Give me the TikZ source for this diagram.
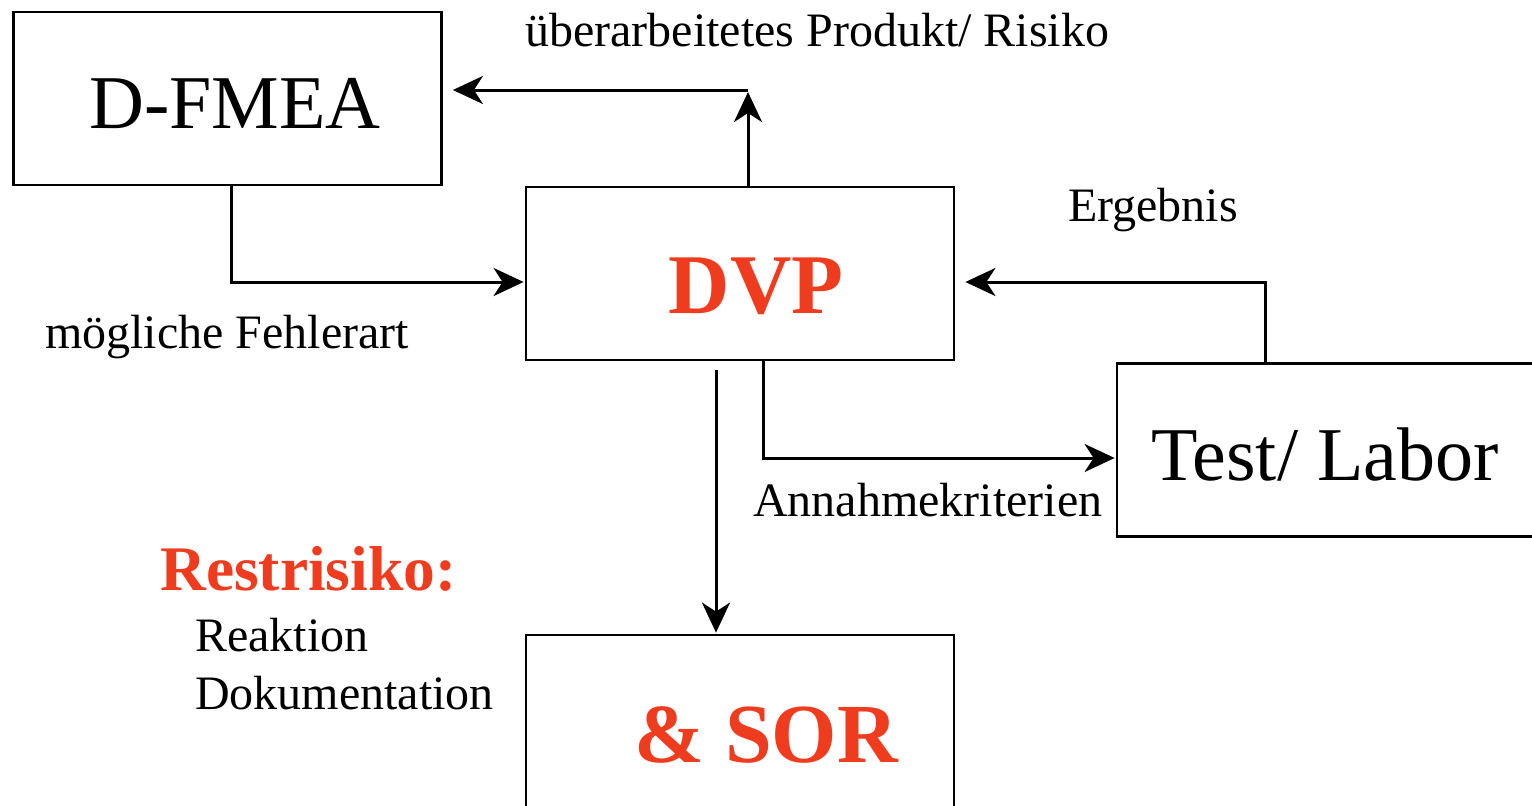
\documentclass[tikz,border=0pt]{standalone}
\usepackage{fontspec}
\setmainfont{Liberation Serif}
\usetikzlibrary{arrows.meta}
\definecolor{accent}{RGB}{240,60,30}
\begin{document}
\begin{tikzpicture}[x=1pt,y=1pt]
\tikzset{
  box/.style={draw, line width=2.8pt, minimum width=428pt, minimum height=173pt, inner sep=0pt},
  conn/.style={line width=3pt, -{Stealth[length=30pt,width=28pt,inset=9pt]}},
  lbl/.style={font=\fontsize{48}{54}\selectfont, inner sep=0pt, anchor=base west},
  big/.style={font=\fontsize{76}{82}\selectfont, inner sep=0pt, anchor=base},
  bigred/.style={font=\fontsize{85}{90}\selectfont\bfseries, text=accent, inner sep=0pt, anchor=base},
  redlbl/.style={font=\fontsize{63.5}{70}\selectfont\bfseries, text=accent, inner sep=0pt, anchor=base west}}
\useasboundingbox (0,0) rectangle (1532,-806);

% boxes
\node[box] (dfmea) at (227.5,-98.5) {};
\node[box] (dvp) at (740,-273.5) {};
\node[box] (test) at (1331,-450) {};
\node[box] (sor) at (740,-721.5) {};

% box texts
\node[big] (tdfmea) at (235,-128) {D-FMEA};
\node[bigred] (tdvp) at (756,-313) {DVP};
\node[big] (ttest) at (1325,-480) {Test/ Labor};
\node[bigred, font=\fontsize{84}{90}\selectfont\bfseries] (tsor) at (766,-762) {\& SOR};

% helper coordinates
\coordinate (c1) at (231,-282);
\coordinate (c2) at (748,-90);
\coordinate (c3) at (1265,-282);
\coordinate (c4) at (763,-458);
\coordinate (c5) at (716,-370);

% connectors
\draw[conn] (dfmea.south -| c1) |- ([xshift=-1pt]dvp.west |- c1);
\draw[conn] (dvp.north -| c2) -- ([yshift=-2pt]c2);
\draw[conn] (c2) -- ([xshift=10pt]dfmea.east |- c2);
\draw[conn] (test.north -| c3) |- ([xshift=10pt]dvp.east |- c3);
\draw[conn] (dvp.south -| c4) |- ([xshift=-1pt]test.west |- c4);
\draw[conn] (c5) -- ([yshift=1pt]sor.north -| c5);

% labels
\node[lbl] (l1) at (525,-46) {überarbeitetes Produkt/ Risiko};
\node[lbl] (l2) at (1068,-221) {Ergebnis};
\node[lbl] (l3) at (45,-348) {mögliche Fehlerart};
\node[lbl] (l4) at (753,-516) {Annahmekriterien};
\node[redlbl] (l5) at (160,-590) {Restrisiko:};
\node[lbl] (l6) at (195,-651) {Reaktion};
\node[lbl] (l7) at (195,-709) {Dokumentation};
\end{tikzpicture}
\end{document}
